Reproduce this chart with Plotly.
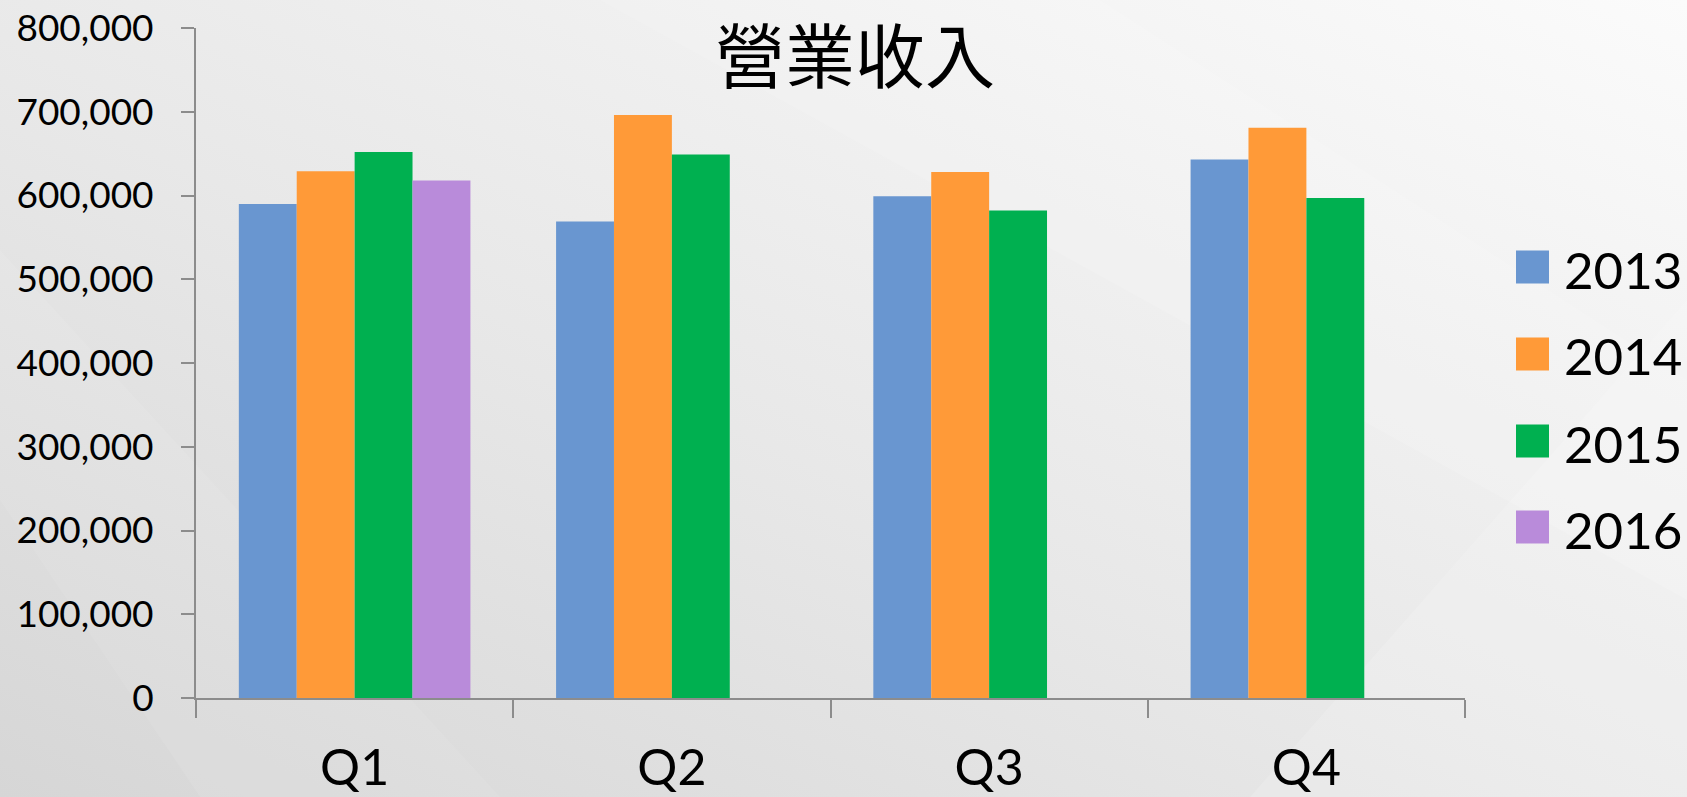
import base64
import plotly.graph_objects as go

# ---- data ----
quarters = ["Q1", "Q2", "Q3", "Q4"]
years = ["2013", "2014", "2015", "2016"]
rev_2013 = [590000, 569000, 599000, 643000]
rev_2014 = [629000, 696000, 628000, 681000]
rev_2015 = [652000, 649000, 582000, 597000]
rev_2016 = [618000, None, None, None]
series = [rev_2013, rev_2014, rev_2015, rev_2016]
colors = ["#6996D0", "#FF9A38", "#00B050", "#B98BDA"]
y_ticks = [0, 100000, 200000, 300000, 400000, 500000, 600000, 700000, 800000]
title_text = "營業收入"

W, H = 1687, 797
L, R, T, B = 196, 222, 28, 99
PW, PH = W - L - R, H - T - B


def px_x(px):
    return (px - L) / PW


def px_y(py):
    return (H - B - py) / PH


fig = go.Figure()
for name, vals, col in zip(years, series, colors):
    fig.add_trace(go.Bar(
        name=name, x=quarters, y=vals,
        marker=dict(color=col, line=dict(width=0)),
        showlegend=False,
    ))

# background gradient as svg image
svg = f'''<svg xmlns="http://www.w3.org/2000/svg" width="{W}" height="{H}" viewBox="0 0 {W} {H}" preserveAspectRatio="none">
<defs>
<linearGradient id="g" x1="0" y1="1" x2="1" y2="0">
<stop offset="0" stop-color="#d6d6d6"/>
<stop offset="0.45" stop-color="#e8e8e8"/>
<stop offset="1" stop-color="#fbfbfb"/>
</linearGradient>
</defs>
<rect width="{W}" height="{H}" fill="url(#g)"/>
<polygon points="600,0 1100,0 1687,380 1687,600" fill="#ffffff" fill-opacity="0.12"/>
<polygon points="0,250 500,797 200,797 0,500" fill="#ffffff" fill-opacity="0.08"/>
<polygon points="1250,797 1687,300 1687,797" fill="#ffffff" fill-opacity="0.15"/>
</svg>'''
src = "data:image/svg+xml;base64," + base64.b64encode(svg.encode()).decode()
fig.add_layout_image(dict(
    source=src, xref="paper", yref="paper",
    x=px_x(0), y=px_y(0), sizex=W / PW, sizey=H / PH,
    xanchor="left", yanchor="top", sizing="stretch", layer="below",
))

# manual legend (large squares)
leg_centers = [267, 354, 441, 527]
shapes = []
annotations = []
for name, col, cy in zip(years, colors, leg_centers):
    shapes.append(dict(
        type="rect", xref="paper", yref="paper",
        x0=px_x(1516), x1=px_x(1549), y0=px_y(cy + 16.5), y1=px_y(cy - 16.5),
        fillcolor=col, line=dict(width=0),
    ))
    annotations.append(dict(
        text=name, xref="paper", yref="paper", x=px_x(1562), y=px_y(cy + 2),
        xanchor="left", yanchor="middle", showarrow=False,
        font=dict(family="Lato", size=51, color="#000000"),
    ))

annotations.append(dict(
    text=title_text, xref="paper", yref="paper", x=px_x(855), y=px_y(52),
    xanchor="center", yanchor="middle", showarrow=False,
    font=dict(family="Noto Sans CJK TC", size=70, color="#000000"),
))

fig.update_layout(
    template="none",
    width=W, height=H, autosize=False,
    margin=dict(l=L, r=R, t=T, b=B, pad=0, autoexpand=False),
    paper_bgcolor="#e6e6e6", plot_bgcolor="rgba(0,0,0,0)",
    barmode="group", bargap=0.27, bargroupgap=0,
    shapes=shapes, annotations=annotations,
    font=dict(family="Lato", color="#000000"),
    showlegend=False,
)
fig.update_yaxes(
    range=[0, 800000], tickvals=y_ticks, tickformat=",",
    automargin=False,
    showgrid=False, zeroline=False,
    showline=True, linecolor="#8c8c8c", linewidth=2,
    ticks="outside", ticklen=13, tickwidth=2, tickcolor="#8c8c8c",
    tickfont=dict(family="Lato", size=37, color="#000000"),
    ticklabelstandoff=20,
)
fig.update_xaxes(
    automargin=False,
    showgrid=False, zeroline=False,
    showline=True, linecolor="#8c8c8c", linewidth=2,
    ticks="outside", ticklen=18, tickwidth=2, tickcolor="#8c8c8c",
    tickson="boundaries",
    tickfont=dict(family="Lato", size=50, color="#000000"),
    ticklabelstandoff=25,
)

fig.write_html(
    "out.html",
    config={"displayModeBar": False},
    post_script="document.body.style.margin='0';document.body.style.overflow='hidden';",
)
